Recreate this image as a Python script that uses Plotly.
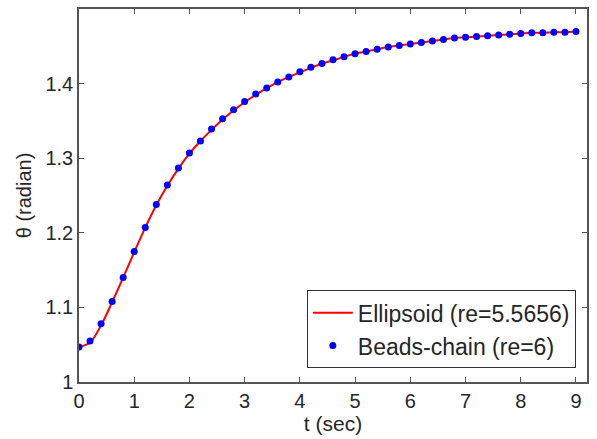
import plotly.graph_objects as go

t_bead = [0.0, 0.2, 0.4, 0.6, 0.8, 1.0, 1.2, 1.4, 1.6, 1.8, 2.0, 2.2, 2.4, 2.6, 2.8,
          3.0, 3.2, 3.4, 3.6, 3.8, 4.0, 4.2, 4.4, 4.6, 4.8, 5.0, 5.2, 5.4, 5.6, 5.8,
          6.0, 6.2, 6.4, 6.6, 6.8, 7.0, 7.2, 7.4, 7.6, 7.8, 8.0, 8.2, 8.4, 8.6, 8.8, 9.0]
theta_bead = [1.047, 1.055, 1.078, 1.108, 1.140, 1.175, 1.207, 1.238, 1.264, 1.287,
              1.307, 1.323, 1.339, 1.353, 1.365, 1.376, 1.386, 1.394, 1.402, 1.409,
              1.416, 1.422, 1.427, 1.432, 1.436, 1.440, 1.443, 1.446, 1.449, 1.451,
              1.453, 1.455, 1.457, 1.459, 1.461, 1.462, 1.463, 1.464, 1.465, 1.466,
              1.467, 1.468, 1.468, 1.469, 1.469, 1.470]
t_ell = t_bead
theta_ell = [1.047, 1.053, 1.076, 1.107, 1.140, 1.174, 1.207, 1.237, 1.263, 1.286,
             1.306, 1.323, 1.338, 1.352, 1.364, 1.375, 1.385, 1.394, 1.402, 1.409,
             1.415, 1.421, 1.427, 1.431, 1.436, 1.440, 1.443, 1.446, 1.449, 1.451,
             1.453, 1.455, 1.457, 1.459, 1.461, 1.462, 1.463, 1.464, 1.465, 1.466,
             1.467, 1.468, 1.468, 1.469, 1.469, 1.470]

x_ticks = [0, 1, 2, 3, 4, 5, 6, 7, 8, 9]
y_ticks = [1.0, 1.1, 1.2, 1.3, 1.4, 1.5]
y_ticklabels = ["1", "1.1", "1.2", "1.3", "1.4", "1.5"]

FONT = "Liberation Sans, Arial, sans-serif"
TXT = "#262626"

fig = go.Figure()
fig.add_trace(go.Scatter(
    x=t_ell, y=theta_ell, mode="lines", name="Ellipsoid (re=5.5656)",
    line=dict(color="#ff0000", width=2, shape="spline"),
))
fig.add_trace(go.Scatter(
    x=t_bead, y=theta_bead, mode="markers", name="Beads-chain (re=6)",
    marker=dict(color="#0000ff", size=7, symbol="circle"),
))

axis_common = dict(
    showline=True, linecolor="#555555", linewidth=1.5, mirror="ticks",
    ticks="inside", ticklen=5, tickcolor="#555555", tickwidth=1,
    showgrid=False, zeroline=False,
    tickfont=dict(family=FONT, size=20, color=TXT),
)

fig.update_layout(
    width=597, height=439,
    margin=dict(l=79, r=10, t=7, b=57),
    paper_bgcolor="white", plot_bgcolor="white",
    font=dict(family=FONT, color=TXT),
    xaxis=dict(range=[0, 9.2], tickvals=x_ticks, ticktext=[str(v) for v in x_ticks],
               title=dict(text="t (sec)", font=dict(family=FONT, size=21, color=TXT), standoff=4),
               **axis_common),
    yaxis=dict(range=[1.0, 1.5], tickvals=y_ticks, ticktext=y_ticklabels,
               title=dict(text="θ (radian)", font=dict(family=FONT, size=20, color=TXT), standoff=8),
               **axis_common),
    legend=dict(x=0.978, y=0.037, xanchor="right", yanchor="bottom",
                bgcolor="white", bordercolor="#333333", borderwidth=1,
                font=dict(family=FONT, size=23, color=TXT),
                tracegroupgap=0, itemwidth=40),
    showlegend=True,
)

fig.write_html("out.html")
